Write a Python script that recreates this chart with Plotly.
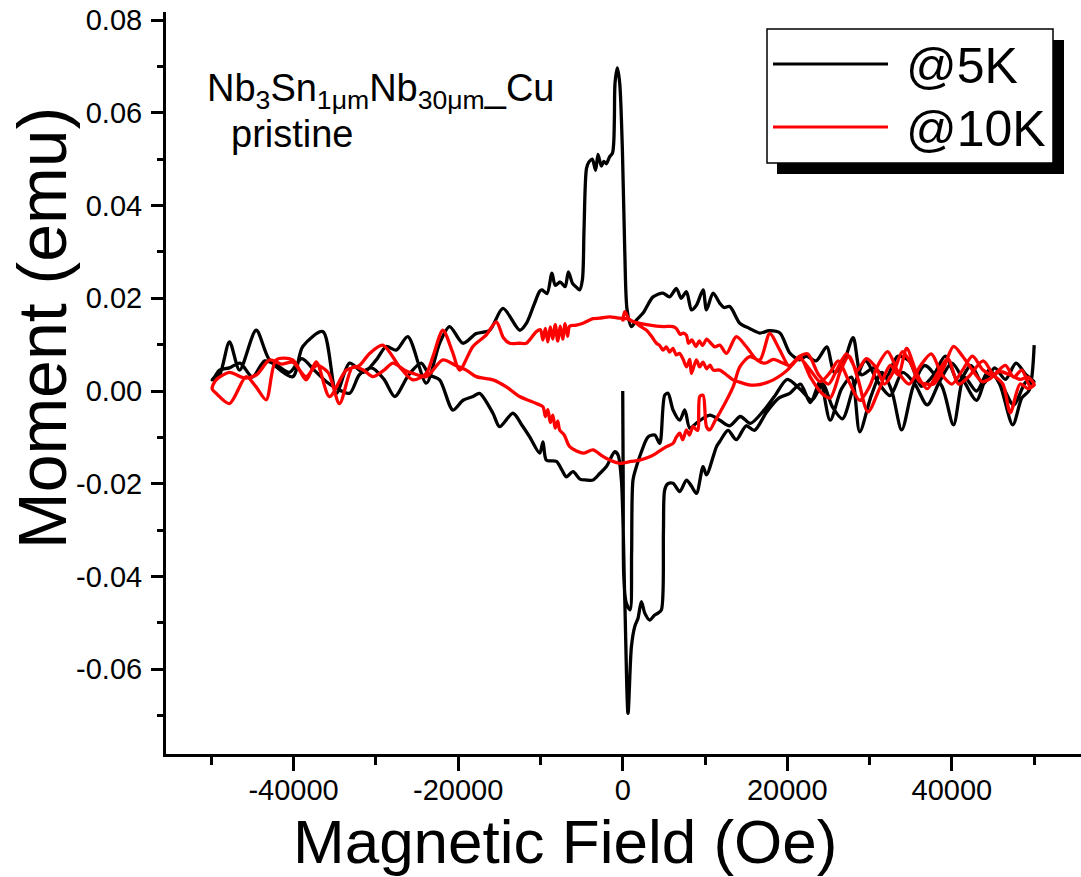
import plotly.graph_objects as go

# ---------------- 5 K loop (field in Oe, moment in emu) ----------------
h5_virgin = [0, 60, 130, 400, 900, 1080, 1250, 1666, 2274, 3076, 3891, 4499, 5107, 5508,
             6116, 6931, 7539, 8147, 8962, 10579, 11795, 13000, 14300, 15500, 17000, 18500,
             20000, 21500, 23000, 24300, 25500, 26700, 28000, 29500, 31000, 32500, 34000,
             35500, 37000, 38500, 40000, 41500, 43000, 44500, 46000, 47500, 49000, 49700]
m5_virgin = [0.0, -0.020, -0.040, -0.0455, -0.0472, -0.035, -0.0192, -0.0163, -0.0131, -0.0099,
             -0.0095, -0.0113, -0.0009, -0.0005, -0.0041, -0.0063, -0.0041, -0.0080, -0.0069,
             -0.0052, -0.0063, -0.0075, -0.0055, -0.0070, -0.0045, -0.0010, 0.0025, 0.0005,
             -0.0020, 0.0015, -0.0035, -0.0060, 0.0005, 0.0065, 0.0020, -0.0010, 0.0040, 0.0015,
             -0.0030, 0.0020, 0.0060, 0.0020, -0.0020, 0.0040, 0.0015, -0.0030, 0.0020, 0.0020]

h5_down = [50000, 49000, 47800, 46500, 45200, 43800, 42300, 40800, 39200, 37800, 36300, 34800,
           33400, 32000, 30500, 29000, 28000, 26800, 25700, 24800, 23500, 22300, 21500, 20300,
           19100, 17800, 16660, 15400, 14230, 13010, 12300, 11800, 10980, 10180, 9765, 8960,
           8350, 7750, 7100, 6530, 5700, 4900, 3690, 2470, 1666, 1050, 530, 250, -40, -365,
           -650, -935, -1010, -1095, -1250, -1600, -2000, -2300, -2600, -3000, -3300, -3700,
           -4100, -4400, -4700, -4900, -5250, -5700, -6100, -6600, -7000, -7600, -8200, -8600,
           -9200, -9800, -10100, -10800, -11700, -12500, -14550, -16170, -17790, -19420,
           -21040, -22250, -23870, -26110, -27520, -28730, -29950, -31500, -33200, -34800,
           -36440, -38880, -40090, -42920, -44540, -46560, -47790, -49000, -49900]
m5_down = [0.0020, 0.0035, 0.0060, 0.0025, 0.0050, 0.0015, 0.0055, 0.0020, 0.0075, 0.0035,
           0.0010, 0.0065, 0.0075, 0.0030, 0.0050, 0.0035, 0.0115, 0.0060, 0.0040, 0.0095,
           0.0065, 0.0075, 0.0067, 0.0082, 0.0125, 0.0130, 0.0125, 0.0135, 0.0146, 0.0182,
           0.0180, 0.0189, 0.0211, 0.0175, 0.0218, 0.0185, 0.0175, 0.0214, 0.0200, 0.0221,
           0.0203, 0.0211, 0.0203, 0.0168, 0.0153, 0.0139, 0.0175, 0.0300, 0.0520, 0.0664,
           0.0697, 0.0664, 0.0590, 0.0535, 0.0513, 0.0505, 0.0490, 0.0495, 0.0485, 0.0510,
           0.0476, 0.0500, 0.0494, 0.0480, 0.0350, 0.0240, 0.0218, 0.0225, 0.0232, 0.0257,
           0.0225, 0.0235, 0.0228, 0.0254, 0.0210, 0.0218, 0.0215, 0.0185, 0.0146, 0.0131,
           0.0178, 0.0131, 0.0124, 0.0103, 0.0139, 0.0103, 0.0017, 0.0117, 0.0088, 0.0096,
           0.0067, 0.0040, 0.0060, -0.0005, 0.0128, 0.0096, 0.0031, 0.0067, 0.0131, 0.0045,
           0.0106, 0.0034, 0.0024]

h5_up = [-49600, -49000, -47800, -46500, -45000, -43500, -42000, -40500, -39000, -37500,
         -36000, -35200, -33200, -32000, -30500, -29000, -27700, -26000, -24500, -23500,
         -22250, -20640, -19400, -18200, -17400, -15770, -14960, -13340, -12200, -11310,
         -10090, -9690, -9280, -8060, -7400, -6850, -6040, -5200, -4410, -3610, -2800, -1980,
         -970, -570, -160, 250, 645, 1058, 1460, 1860, 2270, 2680, 3280, 3890, 4290, 4700,
         4950, 5107, 5500, 6116, 6931, 7746, 8350, 8962, 9765, 10178, 11394, 11795, 12800,
         13800, 15000, 16000, 17500, 19000, 20300, 21600, 22800, 24000, 25200, 26600, 27800,
         28800, 30200, 31500, 32700, 33900, 35300, 36700, 38800, 40200, 41500, 43000, 44500,
         45800, 47400, 48500, 49400, 50000]
m5_up = [0.0030, 0.0045, 0.0050, 0.0060, 0.0030, 0.0065, 0.0055, 0.0040, 0.0070, 0.0045,
         0.0020, 0.0010, -0.0005, 0.0035, 0.0050, 0.0025, -0.0012, 0.0035, 0.0060, 0.0035,
         0.0024, -0.0041, -0.0020, -0.0012, -0.0005, -0.0048, -0.0077, -0.0048, -0.0075,
         -0.0099, -0.0134, -0.0110, -0.0149, -0.0152, -0.0170, -0.0185, -0.0174, -0.0190,
         -0.0192, -0.0192, -0.0178, -0.0163, -0.0131, -0.0138, -0.0192, -0.0450, -0.0695,
         -0.0551, -0.0508, -0.0490, -0.0454, -0.0479, -0.0494, -0.0483, -0.0479, -0.0472,
         -0.0300, -0.0213, -0.0200, -0.0199, -0.0217, -0.0192, -0.0205, -0.0221, -0.0163,
         -0.0181, -0.0120, -0.0109, -0.0085, -0.0105, -0.0075, -0.0085, -0.0045, -0.0015,
         -0.0005, 0.0015, -0.0025, 0.0020, -0.0063, 0.0005, 0.0030, -0.0088, -0.0010, 0.0040,
         0.0000, -0.0084, 0.0010, 0.0055, 0.0010, -0.0073, 0.0030, 0.0000, 0.0045, 0.0015,
         -0.0073, -0.0015, 0.0002, 0.0099]

# ---------------- 10 K loop ----------------
h10_virgin = [0, 250, 850, 1500, 2100, 2900, 3500, 4100, 4500, 4900, 5300, 5700, 6100, 6500,
              6900, 7300, 7750, 8150, 8350, 8950, 9350, 9750, 10200, 10600, 11000, 11800,
              12600, 13400, 14400, 15400, 16300, 17500, 18300, 19300, 20000, 21500, 22800,
              24000, 25200, 26200, 27500, 28800, 30000, 31000, 32200, 33500, 34800, 36200,
              37500, 38800, 40000, 41300, 42500, 43800, 45000, 46500, 47500, 48500, 49500]
m10_virgin = [0.0150, 0.0171, 0.0153, 0.0148, 0.0140, 0.0131, 0.0118, 0.0103, 0.0098, 0.0088,
              0.0095, 0.0084, 0.0092, 0.0078, 0.0081, 0.0070, 0.0052, 0.0068, 0.0038, 0.0067,
              0.0052, 0.0062, 0.0048, 0.0056, 0.0045, 0.0045, 0.0035, 0.0024, 0.0018, 0.0013,
              0.0013, 0.0018, 0.0024, 0.0035, 0.0045, 0.0070, 0.0045, 0.0020, 0.0040, 0.0065,
              0.0020, -0.0020, 0.0010, 0.0055, 0.0085, 0.0040, 0.0015, 0.0055, 0.0080, 0.0035,
              0.0015, 0.0045, 0.0075, 0.0045, 0.0035, 0.0055, 0.0030, 0.0045, 0.0010]

h10_down = [50000, 49250, 48300, 47000, 45800, 44500, 43700, 42500, 41300, 40200, 39000,
            37800, 36100, 35000, 34000, 33000, 31800, 30800, 29600, 28500, 27200, 26000,
            25000, 23800, 22500, 21500, 20300, 19500, 18300, 17300, 16300, 15000, 13800,
            12600, 11800, 11200, 10600, 10200, 9700, 9300, 8900, 8400, 8000, 7750, 7400,
            7000, 6500, 6100, 5000, 4100, 2900, 2100, 1250, 600, -365, -1581, -2797, -3612,
            -4828, -5630, -6445, -6700, -7000, -7300, -7600, -7900, -8200, -8500, -8800,
            -9100, -9400, -9700, -10000, -10500, -11710, -12525, -13741, -14500, -15358,
            -16574, -18203, -19821, -20700, -21852, -23068, -23870, -25500, -27117, -29148,
            -30765, -32000, -33598, -35629, -37246, -38462, -40091, -42110, -43326, -44600,
            -45758, -47789, -49406, -49900]
m10_down = [0.0013, 0.0030, 0.0025, 0.0035, 0.0042, 0.0025, 0.0020, 0.0045, 0.0075, 0.0096,
            0.0050, 0.0015, 0.0020, 0.0060, 0.0085, 0.0045, 0.0015, 0.0050, 0.0070, 0.0045,
            0.0080, 0.0045, 0.0015, 0.0035, 0.0080, 0.0075, 0.0055, 0.0060, 0.0068, 0.0060,
            0.0067, 0.0096, 0.0117, 0.0081, 0.0099, 0.0095, 0.0105, 0.0112, 0.0098, 0.0108,
            0.0096, 0.0110, 0.0103, 0.0120, 0.0125, 0.0122, 0.0135, 0.0139, 0.0139, 0.0140,
            0.0143, 0.0146, 0.0150, 0.0156, 0.0157, 0.0160, 0.0157, 0.0156, 0.0146, 0.0142,
            0.0140, 0.0118, 0.0145, 0.0112, 0.0140, 0.0108, 0.0143, 0.0112, 0.0138, 0.0106,
            0.0135, 0.0110, 0.0132, 0.0128, 0.0103, 0.0103, 0.0103, 0.0115, 0.0149, 0.0121,
            0.0096, 0.0045, 0.0085, 0.0131, 0.0074, 0.0038, 0.0024, 0.0052, 0.0099, 0.0081,
            0.0055, 0.0045, -0.0012, 0.0063, 0.0024, 0.0067, 0.0067, -0.0019, 0.0010, 0.0031,
            -0.0027, -0.0005, 0.0005]

h10_up = [-49406, -47789, -46000, -44500, -42900, -41500, -40100, -38500, -37200, -35800,
          -34413, -32796, -31500, -30364, -29000, -27932, -26500, -25500, -23870, -21852,
          -20300, -19006, -17790, -15771, -14142, -12525, -10494, -9692, -9400, -9100, -8800,
          -8500, -8200, -7900, -7661, -7100, -6445, -4828, -3612, -2500, -1581, -365, 1000,
          2067, 3283, 4098, 5314, 6116, 6500, 6931, 7300, 7746, 8100, 8548, 9100, 9363, 9765,
          10178, 10579, 11200, 11795, 13412, 14227, 15443, 16659, 17875, 19091, 20307, 21523,
          22800, 24200, 25200, 26500, 27500, 28600, 29800, 31200, 32500, 33500, 34500, 35800,
          37000, 38300, 39500, 40800, 42000, 43800, 45000, 46200, 47100, 48300, 49300, 50000]
m10_up = [0.0024, 0.0040, 0.0028, 0.0035, 0.0067, 0.0058, 0.0062, 0.0031, 0.0055, 0.0040,
          -0.0027, 0.0052, 0.0045, 0.0031, 0.0045, 0.0060, 0.0045, 0.0038, 0.0031, 0.0067,
          0.0055, 0.0045, 0.0031, 0.0024, 0.0009, -0.0012, -0.0027, -0.0034, -0.0055, -0.0040,
          -0.0068, -0.0052, -0.0080, -0.0065, -0.0084, -0.0095, -0.0120, -0.0134, -0.0127,
          -0.0140, -0.0149, -0.0156, -0.0152, -0.0149, -0.0142, -0.0134, -0.0120, -0.0113,
          -0.0100, -0.0091, -0.0105, -0.0084, -0.0095, -0.0077, -0.0085, -0.0012, -0.0009,
          -0.0077, -0.0084, -0.0065, -0.0047, 0.0009, 0.0052, 0.0074, 0.0067, 0.0124, 0.0088,
          0.0052, 0.0074, 0.0030, -0.0005, -0.0015, 0.0045, 0.0075, 0.0025, -0.0045, 0.0005,
          0.0055, 0.0035, 0.0092, 0.0035, 0.0005, 0.0040, 0.0070, 0.0015, 0.0030, 0.0065,
          0.0035, 0.0015, -0.0047, 0.0015, 0.0005, 0.0013]

# ---------------- axis ticks ----------------
x_tick_vals = [-40000, -20000, 0, 20000, 40000]
x_tick_text = ["-40000", "-20000", "0", "20000", "40000"]
x_minor_vals = [-50000, -30000, -10000, 10000, 30000, 50000]
y_tick_vals = [-0.06, -0.04, -0.02, 0.0, 0.02, 0.04, 0.06, 0.08]
y_tick_text = ["-0.06", "-0.04", "-0.02", "0.00", "0.02", "0.04", "0.06", "0.08"]
y_minor_vals = [-0.07, -0.05, -0.03, -0.01, 0.01, 0.03, 0.05, 0.07]

series_names = ["@5K", "@10K"]
series_colors = ["#000000", "#ff0000"]

FONT = "Liberation Sans, Arial, Helvetica, sans-serif"
W, H = 1081, 877
ML, MR, MT, MB = 166, 0, 12, 123


def paper_x(p):
    return (p - ML) / (W - ML - MR)


def paper_y(p):
    return (H - MB - p) / (H - MT - MB)


fig = go.Figure()

loops = [
    (h5_virgin + h5_down + h5_up, m5_virgin + m5_down + m5_up),
    (h10_virgin + h10_down + h10_up, m10_virgin + m10_down + m10_up),
]
for (hx, my), name, col in zip(loops, series_names, series_colors):
    fig.add_trace(go.Scatter(
        x=hx, y=my, mode="lines", name=name,
        line=dict(color=col, width=3.3, shape="spline", smoothing=0.8),
        showlegend=False,
    ))

axis_common = dict(
    showline=True, linecolor="black", linewidth=3, mirror=False,
    ticks="outside", tickcolor="black", tickwidth=2.5,
    showgrid=False, zeroline=False,
    tickfont=dict(family=FONT, size=29, color="black"),
    tickmode="array",
)

fig.update_xaxes(
    range=[-55500, 55690], tickvals=x_tick_vals, ticktext=x_tick_text,
    ticklen=14, ticklabelstandoff=-6,
    minor=dict(tickmode="array", tickvals=x_minor_vals, ticks="outside",
               ticklen=8, tickwidth=2.5, tickcolor="black", showgrid=False),
    **axis_common,
)
fig.update_yaxes(
    range=[-0.07828, 0.08173], tickvals=y_tick_vals, ticktext=y_tick_text,
    ticklen=12, ticklabelstandoff=3,
    minor=dict(tickmode="array", tickvals=y_minor_vals, ticks="outside",
               ticklen=6, tickwidth=2.5, tickcolor="black", showgrid=False),
    **axis_common,
)

shapes = [
    # legend drop shadow and frame
    dict(type="rect", xref="paper", yref="paper", layer="above",
         x0=paper_x(777), x1=paper_x(1064), y0=paper_y(174), y1=paper_y(40),
         fillcolor="black", line=dict(width=0)),
    dict(type="rect", xref="paper", yref="paper", layer="above",
         x0=paper_x(767), x1=paper_x(1053), y0=paper_y(163), y1=paper_y(29),
         fillcolor="white", line=dict(color="black", width=1.5)),
]
annotations = []
for i, (name, col) in enumerate(zip(series_names, series_colors)):
    yl = 64 + i * 63
    shapes.append(dict(type="line", xref="paper", yref="paper", layer="above",
                       x0=paper_x(773), x1=paper_x(888), y0=paper_y(yl), y1=paper_y(yl),
                       line=dict(color=col, width=3)))
    annotations.append(dict(xref="paper", yref="paper", x=paper_x(904), y=paper_y(yl + 2),
                            xanchor="left", yanchor="middle", showarrow=False, text=name,
                            font=dict(family=FONT, size=50, color="black")))

annotations += [
    dict(xref="paper", yref="paper", x=paper_x(205), y=paper_y(91), xanchor="left",
         yanchor="middle", showarrow=False,
         text="Nb<sub>3</sub>Sn<sub>1\u03bcm</sub>Nb<sub>30\u03bcm</sub>_Cu",
         font=dict(family=FONT, size=38, color="black")),
    dict(xref="paper", yref="paper", x=paper_x(229), y=paper_y(134), xanchor="left",
         yanchor="middle", showarrow=False, text="pristine",
         font=dict(family=FONT, size=38, color="black")),
    dict(xref="paper", yref="paper", x=paper_x(565), y=paper_y(841), xanchor="center",
         yanchor="middle", showarrow=False, text="Magnetic Field (Oe)",
         font=dict(family=FONT, size=62, color="black")),
    dict(xref="paper", yref="paper", x=paper_x(42), y=paper_y(328), xanchor="center",
         yanchor="middle", showarrow=False, text="Moment (emu)", textangle=-90,
         font=dict(family=FONT, size=68, color="black")),
]

fig.update_layout(
    width=W, height=H,
    margin=dict(l=ML, r=MR, t=MT, b=MB, pad=0),
    paper_bgcolor="white", plot_bgcolor="white",
    shapes=shapes, annotations=annotations,
    font=dict(family=FONT, color="black"),
)

fig.write_html("out.html")
